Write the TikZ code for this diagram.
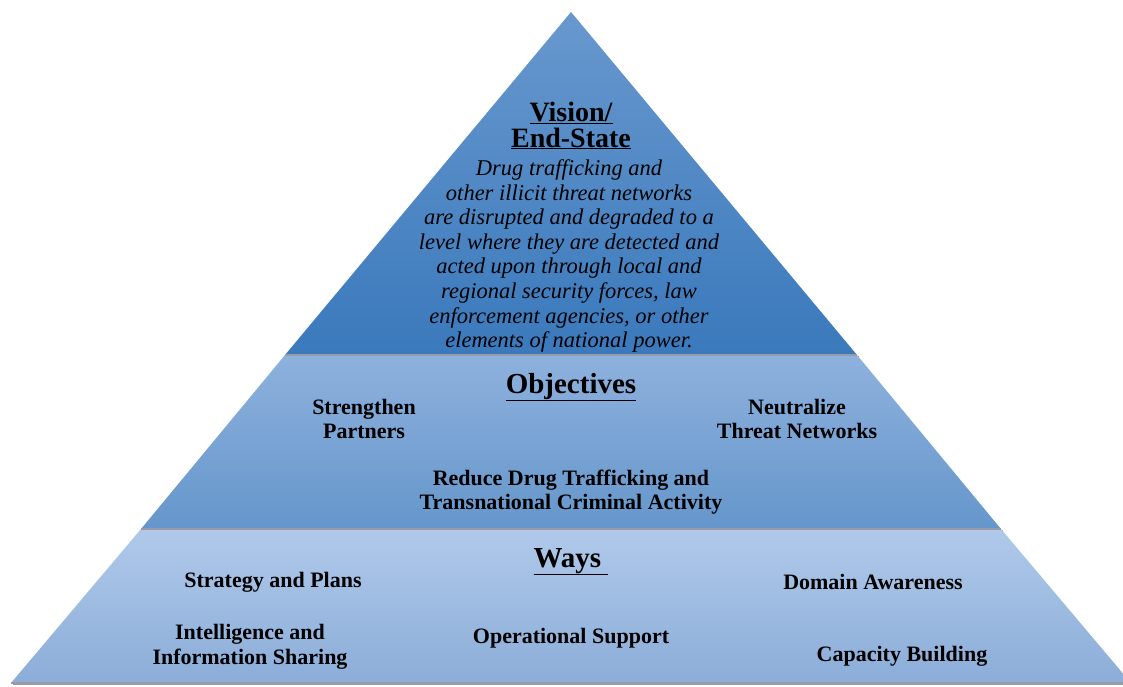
\documentclass[tikz,border=0pt]{standalone}
\usepackage{fontspec}
\setmainfont{Liberation Serif}
\begin{document}
\begin{tikzpicture}[x=1pt,y=-1pt,
  tierA/.style={top color={rgb,255:red,104;green,152;blue,206}, bottom color={rgb,255:red,58;green,121;blue,188}},
  tierB/.style={top color={rgb,255:red,142;green,177;blue,221}, bottom color={rgb,255:red,101;green,150;blue,203}},
  tierC/.style={top color={rgb,255:red,176;green,201;blue,234}, bottom color={rgb,255:red,139;green,173;blue,216}},
  shade line/.style={draw={rgb,255:red,150;green,155;blue,165}, line width=1.6pt},
  head/.style={font=\bfseries\fontsize{28}{25}\selectfont, align=center, inner sep=0pt, anchor=base},
  item/.style={font=\bfseries\fontsize{22}{24.5}\selectfont, align=center, inner sep=0pt},
  vision/.style={font=\itshape\fontsize{22.5}{24.6}\selectfont, align=center, inner sep=0pt}]
\useasboundingbox (0,0) rectangle (1123,686);
\clip (0,0) rectangle (1123,686);
\fill[white] (0,0) rectangle (1123,686);

% pyramid corners
\coordinate (apex) at (571,12);
\coordinate (al) at (285,355);  \coordinate (ar) at (857,355);
\coordinate (bl) at (141,529);  \coordinate (br) at (1001,529);
\coordinate (cl) at (11,683);   \coordinate (cr) at (1131,683);

% soft shadows under each tier
\draw[shade line] ([xshift=2pt,yshift=-1.5pt]cl) -- ([yshift=-1.5pt]cr);
\draw[shade line] ([xshift=2pt,yshift=-1.5pt]bl) -- ([xshift=2pt,yshift=-1.5pt]br);
\draw[shade line] ([xshift=2pt,yshift=-1.5pt]al) -- ([xshift=2pt,yshift=-1.5pt]ar);

% tiers
\path[tierC] (bl) -- (br) -- (cr) -- (cl) -- cycle;
\path[tierB] (al) -- (ar) -- (br) -- (bl) -- cycle;
\path[tierA] (apex) -- (ar) -- (al) -- cycle;
\draw[shade line, line width=1.2pt] (cl) -- (cr);
\draw[shade line, line width=1.2pt] (bl) -- (br);
\draw[shade line, line width=1.2pt] (al) -- (ar);

% top tier
\node[head] (vis) at (571,121) {\underline{Vision/}};
\node[head] (end) at (571,147) {\underline{End-State}};
\node[vision] (vistext) at (569,256) {Drug trafficking and\\other illicit threat networks\\are disrupted and degraded to a\\level where they are detected and\\acted upon through local and\\regional security forces, law\\enforcement agencies, or other\\elements of national power.};

% middle tier
\node[head, font=\bfseries\fontsize{29}{25}\selectfont] (obj) at (571,393) {\underline{Objectives}};
\node[item] (sp) at (364,419) {Strengthen\\Partners};
\node[item] (ntn) at (797,419) {Neutralize\\Threat Networks};
\node[item] (rdt) at (571,492) {Reduce Drug Trafficking and\\Transnational Criminal Activity};

% bottom tier
\node[head, font=\bfseries\fontsize{29}{25}\selectfont] (ways) at (571,567) {\underline{Ways\ }};
\node[item] (sap) at (273,582) {Strategy and Plans};
\node[item] (da) at (873,582) {Domain Awareness};
\node[item] (iis) at (250,647) {Intelligence and\\Information Sharing};
\node[item] (os) at (571,638) {Operational Support};
\node[item] (cb) at (902,656) {Capacity Building};
\end{tikzpicture}
\end{document}
